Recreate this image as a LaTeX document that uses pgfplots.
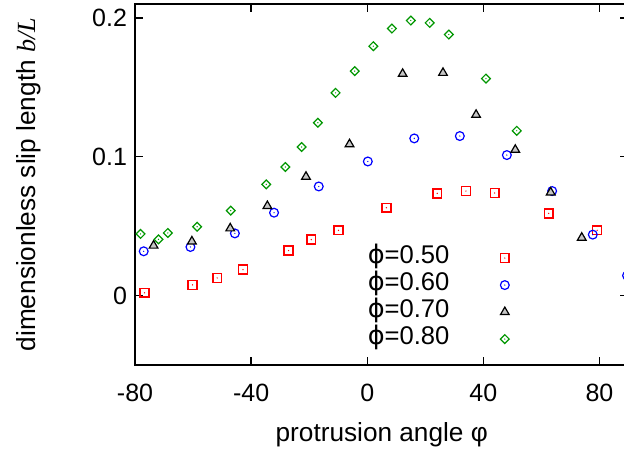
\documentclass[border=0pt]{standalone}
\usepackage{fontspec}
\setmainfont{Liberation Sans}
\newfontfamily\serif{Liberation Serif}
\newfontfamily\dejavu{DejaVu Sans}
\usepackage{pgfplots}
\pgfplotsset{compat=1.18}

\definecolor{gpred}{RGB}{255,0,0}
\definecolor{gpblue}{RGB}{0,0,255}
\definecolor{gpgreen}{RGB}{0,150,0}

% gnuplot-like open marks with a dot in the middle
\pgfdeclareplotmark{dsquare}{%
  \pgfpathrectangle{\pgfqpoint{-\pgfplotmarksize}{-\pgfplotmarksize}}{\pgfqpoint{2\pgfplotmarksize}{2\pgfplotmarksize}}%
  \pgfusepathqstroke
  \pgfpathcircle{\pgfpointorigin}{0.35pt}\pgfusepathqfill}
\pgfdeclareplotmark{dcircle}{%
  \pgfpathcircle{\pgfpointorigin}{\pgfplotmarksize}\pgfusepathqstroke
  \pgfpathcircle{\pgfpointorigin}{0.35pt}\pgfusepathqfill}
\pgfdeclareplotmark{dtriangle}{%
  \pgfpathmoveto{\pgfqpoint{0pt}{\pgfplotmarksize}}%
  \pgfpathlineto{\pgfqpoint{-0.866\pgfplotmarksize}{-0.5\pgfplotmarksize}}%
  \pgfpathlineto{\pgfqpoint{0.866\pgfplotmarksize}{-0.5\pgfplotmarksize}}%
  \pgfpathclose
  \pgfusepathqfillstroke
  \pgfpathcircle{\pgfpointorigin}{0.35pt}\pgfusepathqfill}
\pgfdeclareplotmark{ddiamond}{%
  \pgfpathmoveto{\pgfqpoint{0pt}{\pgfplotmarksize}}%
  \pgfpathlineto{\pgfqpoint{\pgfplotmarksize}{0pt}}%
  \pgfpathlineto{\pgfqpoint{0pt}{-\pgfplotmarksize}}%
  \pgfpathlineto{\pgfqpoint{-\pgfplotmarksize}{0pt}}%
  \pgfpathclose
  \pgfusepathqstroke
  \pgfpathcircle{\pgfpointorigin}{0.35pt}\pgfusepathqfill}

\pgfplotstableread{
x y
-76.7 0.0020
-60.2 0.0077
-51.7 0.0127
-42.8 0.0187
-27.1 0.0324
-19.3 0.0403
-9.9 0.0470
6.6 0.0633
24.1 0.0736
34.0 0.0753
43.9 0.0739
62.5 0.0592
79.2 0.0470
}\phiA
\pgfplotstableread{
x y
-77.0 0.0319
-60.9 0.0350
-45.6 0.0448
-32.1 0.0597
-16.7 0.0786
0.2 0.0966
16.2 0.1132
31.9 0.1149
48.1 0.1012
63.7 0.0753
77.7 0.0439
89.5 0.0144
}\phiB
\pgfplotstableread{
x y
-73.6 0.0360
-60.4 0.0390
-47.2 0.0484
-34.4 0.0645
-21.1 0.0856
-6.1 0.1090
12.2 0.1597
26.1 0.1604
37.5 0.1302
51.0 0.1050
63.2 0.0743
73.9 0.0417
}\phiC
\pgfplotstableread{
x y
-78.1 0.0444
-71.9 0.0405
-68.7 0.0451
-58.6 0.0496
-47.0 0.0612
-34.8 0.0801
-28.2 0.0926
-22.6 0.1070
-17.0 0.1245
-10.9 0.1460
-4.3 0.1617
2.1 0.1796
8.5 0.1923
15.0 0.1981
21.5 0.1964
28.1 0.1880
40.9 0.1563
51.5 0.1187
}\phiD

\begin{document}
\begin{tikzpicture}
\begin{axis}[
    scale only axis,
    width=246.75pt,
    height=180.5pt,
    xmin=-80, xmax=90,
    ymin=-0.05, ymax=0.21,
    xtick={-80,-40,0,40,80},
    ytick={0,0.1,0.2},
    yticklabels={0,0.1,0.2},
    xticklabels={-80,-40,0,40,80},
    tick align=inside,
    major tick length=4pt,
    minor tick num=0,
    axis line style={line width=0.9pt},
    every tick/.style={line width=0.7pt, black},
    tick label style={font=\fontsize{12.5}{14}\selectfont},
    xticklabel style={anchor=base, yshift=-18.3pt},
    yticklabel style={xshift=-0.5pt},
    label style={font=\fontsize{13.1}{15}\selectfont},
    xlabel={protrusion angle φ},
    ylabel={dimensionless slip length {\serif\itshape b/L}},
    xlabel style={at={(axis description cs:0.5,-0.2105)}, anchor=base},
    ylabel style={at={(axis description cs:-0.2026,0.5)}, anchor=base, rotate=0},
    /pgf/number format/assume math mode=true,
    legend plot pos=right,
    legend cell align=left,
    legend style={draw=none, fill=none,
        at={(axis description cs:0.616,0.184)}, anchor=center,
        font=\fontsize{12.8}{14}\selectfont,
        row sep=0pt, column sep=0pt,
        nodes={inner sep=0.5pt, text height=9.2pt, text depth=3.3pt}},
    legend image code/.code={%
        \path (0pt,0pt) (30pt,0pt);
        \draw plot coordinates {(27pt,0pt)};},
]
\addplot[only marks, gpred, mark=dsquare, mark size=2.2pt, mark options={line width=0.75pt}] table {\phiA};
\addplot[only marks, gpblue, mark=dcircle, mark size=2.2pt, mark options={line width=0.6pt}] table {\phiB};
\addplot[only marks, black, mark=dtriangle, mark size=2.5pt, mark options={line width=0.6pt, fill=gray!45}] table {\phiC};
\addplot[only marks, gpgreen, mark=ddiamond, mark size=2.2pt, mark options={line width=0.6pt}] table {\phiD};
\legend{{\dejavu ϕ}=0.50, {\dejavu ϕ}=0.60, {\dejavu ϕ}=0.70, {\dejavu ϕ}=0.80}
\end{axis}
\pgfresetboundingbox
\useasboundingbox (-67.5pt,-43pt) rectangle (244.5pt,182.5pt);
\end{tikzpicture}
\end{document}
